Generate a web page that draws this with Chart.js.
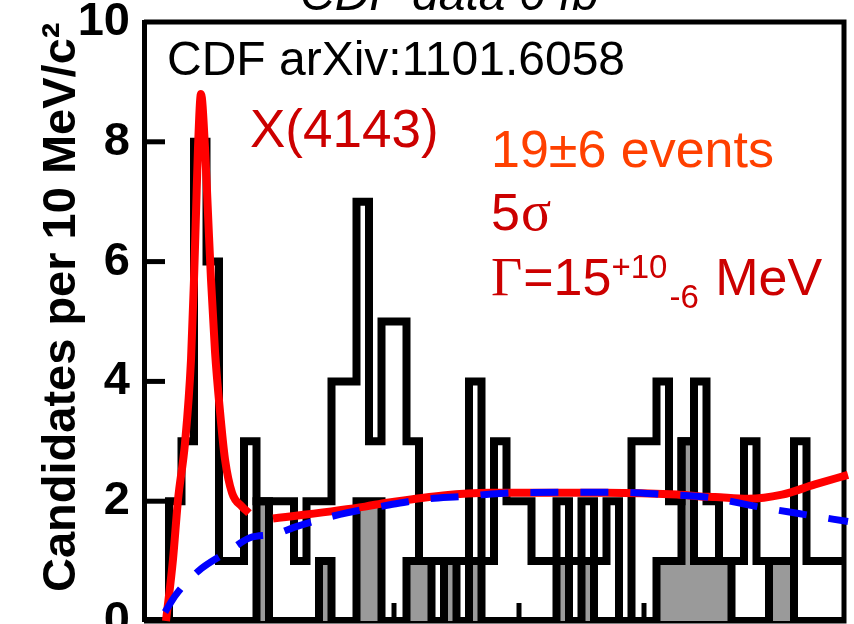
<!DOCTYPE html>
<html>
<head>
<meta charset="utf-8">
<script src="https://cdn.jsdelivr.net/npm/chart.js@4.4.0/dist/chart.umd.min.js"></script>
<style>
  html, body { margin: 0; padding: 0; background: #fff; }
  #wrap { width: 854px; height: 624px; overflow: hidden; }
</style>
</head>
<body>
<div id="wrap"><canvas id="massChart" width="854" height="624"></canvas></div>
<script>
// bin edges of the delta-M histogram (GeV/c2), 10 MeV per bin
const binEdges = [1.00, 1.01, 1.02, 1.03, 1.04, 1.05, 1.06, 1.07, 1.08, 1.09,
  1.10, 1.11, 1.12, 1.13, 1.14, 1.15, 1.16, 1.17, 1.18, 1.19,
  1.20, 1.21, 1.22, 1.23, 1.24, 1.25, 1.26, 1.27, 1.28, 1.29,
  1.30, 1.31, 1.32, 1.33, 1.34, 1.35, 1.36, 1.37, 1.38, 1.39,
  1.40, 1.41, 1.42, 1.43, 1.44, 1.45, 1.46, 1.47, 1.48, 1.49,
  1.50, 1.51, 1.52, 1.53, 1.54, 1.55, 1.56];

// candidates per bin (black outline)
const candidates = [0, 0, 2, 3, 8, 6, 1, 1, 3, 2,
  2, 2, 1, 2, 2, 4, 4, 7, 3, 5,
  5, 3, 1, 1, 1, 1, 4, 1, 3, 2,
  2, 1, 1, 2, 1, 2, 1, 2, 0, 3,
  3, 4, 2, 3, 4, 2, 1, 1, 3, 1,
  1, 1, 3, 1, 1, 1];

// grey filled histogram
const greyCounts = [0, 0, 0, 0, 0, 0, 0, 0, 0, 2,
  0, 0, 0, 0, 1, 0, 0, 2, 2, 0,
  0, 1, 1, 0, 1, 0, 1, 0, 0, 0,
  0, 0, 0, 1, 0, 1, 0, 0, 0, 0,
  0, 1, 1, 3, 1, 1, 1, 0, 0, 0,
  1, 1, 0, 0, 0, 0];

// total fit (red)
const fitMass = [1.0176, 1.0232, 1.0272, 1.0328, 1.0376, 1.0400, 1.0416, 1.0432, 1.0456,
  1.0488, 1.0512, 1.0536, 1.0568, 1.0608, 1.0648, 1.0704, 1.0784, 1.0840, 1.0940,
  1.1032, 1.1768, 1.1944, 1.2768, 1.3688, 1.4264, 1.4448, 1.4568, 1.4832, 1.5104, 1.5368, 1.5632];
const fitValues = [0, 1.03, 2.02, 2.97, 4.36, 5.7, 6.8, 7.9, 8.8,
  7.9, 6.8, 5.7, 4.5, 3.5, 2.7, 2.14, 1.91, 1.8, null,
  1.71, 1.91, 1.975, 2.14, 2.14, 2.11, 2.08, 2.07, 2.04, 2.11, 2.28, 2.44];

// background (blue dashed)
const bkgMass = [1.0168, 1.0256, 1.0432, 1.0672, 1.0848, 1.1048, 1.1224, 1.1568, 1.1968, 1.2232,
  1.2552, 1.2848, 1.3328, 1.3808, 1.4184, 1.4528, 1.4904, 1.5248, 1.5632];
const bkgValues = [0.15, 0.44, 0.83, 1.16, 1.39, 1.45, 1.58, 1.78, 1.94, 2.03,
  2.08, 2.13, 2.15, 2.15, 2.11, 2.06, 1.91, 1.79, 1.66];

const yTickValues = [0, 2, 4, 6, 8, 10];
const xTickValues = [1.1, 1.2, 1.3, 1.4, 1.5];

const SANS = "'Liberation Sans', Arial, Helvetica, sans-serif";
const SERIF = "'Liberation Serif', 'Times New Roman', serif";

// histogram outline: one point per left bin edge, plus the closing edge
function stepPoints(counts) {
  const pts = counts.map((c, i) => ({ x: binEdges[i], y: c }));
  pts.push({ x: binEdges[counts.length], y: counts[counts.length - 1] });
  return pts;
}

function curvePoints(xs, ys) {
  return xs.map((x, i) => ({ x: x, y: ys[i] }));
}

// frame, inward ticks, axis title and the labels inside the plot
const framePlugin = {
  id: "frame",
  beforeDatasetsDraw(chart) {
    const { ctx, chartArea: a, scales: { x, y } } = chart;
    ctx.save();
    ctx.strokeStyle = "#000";
    ctx.lineWidth = 5;
    ctx.beginPath();
    ctx.moveTo(a.left, a.top);
    ctx.lineTo(a.right, a.top);
    ctx.lineTo(a.right, a.bottom);
    ctx.lineTo(a.left, a.bottom);
    ctx.stroke();
    yTickValues.forEach(v => {
      if (v === 0 || v === 10) return;
      const py = y.getPixelForValue(v);
      ctx.beginPath();
      ctx.moveTo(a.left, py);
      ctx.lineTo(a.left + 21, py);
      ctx.stroke();
    });
    xTickValues.forEach(v => {
      const px = x.getPixelForValue(v);
      ctx.beginPath();
      ctx.moveTo(px, a.bottom);
      ctx.lineTo(px, a.bottom - 18);
      ctx.stroke();
    });
    ctx.restore();
  },
  afterDraw(chart) {
    const ctx = chart.ctx;
    const put = (s, x, y, font, color) => {
      ctx.font = font;
      ctx.fillStyle = color;
      ctx.fillText(s, x, y);
      return x + ctx.measureText(s).width;
    };
    ctx.save();
    ctx.textBaseline = "alphabetic";
    ctx.textAlign = "left";

    // y axis title, rotated
    ctx.save();
    ctx.translate(75, 592);
    ctx.rotate(-Math.PI / 2);
    put("Candidates per 10 MeV/c\u00B2", 0, 0, "bold 47px " + SANS, "#000");
    ctx.restore();

    // title, mostly cut off at the top
    put("CDF data 6 fb\u207B\u00B9", 300, 10, "italic 48px " + SANS, "#000");
    put("CDF arXiv:1101.6058", 167, 75, "48px " + SANS, "#000");
    put("X(4143)", 250, 147, "53px " + SANS, "#cc0000");
    put("19\u00B16 events", 491, 167, "52px " + SANS, "#ff4000");
    let x = put("5", 491, 230, "52px " + SANS, "#cc0000");
    put("\u03C3", x + 1, 230, "56px " + SERIF, "#cc0000");
    x = put("\u0393", 491, 295, "54px " + SERIF, "#cc0000");
    x = put("=15", x + 1, 295, "52px " + SANS, "#cc0000");
    const xs = put("+10", x, 278, "33px " + SANS, "#cc0000");
    x = put("-6", xs + 2, 308, "33px " + SANS, "#cc0000");
    put(" MeV", x + 2, 295, "52px " + SANS, "#cc0000");
    ctx.restore();
  }
};

const ctx = document.getElementById("massChart").getContext("2d");

const massChart = new Chart(ctx, {
  type: "line",
  data: {
    datasets: [
      {
        label: "background",
        data: curvePoints(bkgMass, bkgValues),
        borderColor: "#0000ff",
        borderWidth: 7,
        borderDash: [28, 22],
        cubicInterpolationMode: "monotone",
        pointRadius: 0,
        clip: false,
        order: 0
      },
      {
        label: "fit",
        data: curvePoints(fitMass, fitValues),
        borderColor: "#ff0000",
        borderWidth: 8,
        cubicInterpolationMode: "monotone",
        pointRadius: 0,
        spanGaps: false,
        clip: false,
        order: 1
      },
      {
        label: "candidates",
        data: stepPoints(candidates),
        stepped: "before",
        borderColor: "#000",
        borderWidth: 8,
        borderJoinStyle: "miter",
        pointRadius: 0,
        fill: false,
        order: 2
      },
      {
        label: "grey",
        data: stepPoints(greyCounts),
        stepped: "before",
        borderColor: "#000",
        borderWidth: 8,
        borderJoinStyle: "miter",
        backgroundColor: "#9a9a9a",
        pointRadius: 0,
        fill: "origin",
        order: 3
      }
    ]
  },
  options: {
    responsive: false,
    animation: false,
    devicePixelRatio: 1,
    layout: { padding: { left: 0, right: 10, top: 22, bottom: 3 } },
    plugins: {
      legend: { display: false },
      tooltip: { enabled: false }
    },
    scales: {
      x: {
        type: "linear",
        min: 1.0,
        max: 1.56,
        display: false
      },
      y: {
        min: 0,
        max: 10,
        afterFit: (s) => {
          s.width = 144;
          s.paddingTop = 0;
          s.paddingBottom = 0;
        },
        afterBuildTicks: (s) => {
          s.ticks = yTickValues.map(v => ({ value: v }));
        },
        grid: { display: false, drawTicks: false },
        border: { display: true, color: "#000", width: 5 },
        ticks: {
          color: "#000",
          padding: 14,
          font: { family: SANS, size: 47, weight: "bold" }
        },
        title: { display: false }
      }
    }
  },
  plugins: [framePlugin]
});
</script>
</body>
</html>
